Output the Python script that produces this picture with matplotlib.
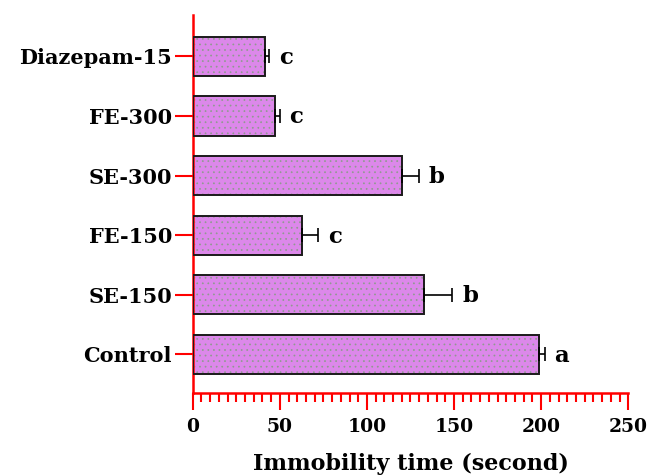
import matplotlib
matplotlib.use("Agg")
import matplotlib.pyplot as plt
from matplotlib.ticker import MultipleLocator

# ---- data --------------------------------------------------------------------
groups = ["Control", "SE-150", "FE-150", "SE-300", "FE-300", "Diazepam-15"]
means = [199, 133, 63, 120, 47, 41.5]
errs = [3, 16, 9, 10, 3, 2.5]
letters = ["a", "b", "c", "b", "c", "c"]

plt.rcParams["font.family"] = ["DejaVu Serif"]
plt.rcParams["font.weight"] = "bold"
plt.rcParams["hatch.linewidth"] = 0.5

fig = plt.figure(figsize=(6.49, 4.76), dpi=100)
ax = fig.add_axes([0.297, 0.174, 0.671, 0.794])

y = range(len(groups))
# fill with dotted pattern, then black outline on top
ax.barh(y, means, height=0.66, color="#dc88ea", edgecolor="#8f9a8f",
        hatch="...", linewidth=0, zorder=2)
ax.barh(y, means, height=0.66, fill=False, edgecolor="#1a1a1a",
        linewidth=1.4, zorder=3)
ax.errorbar(means, list(y), xerr=[[0] * len(errs), errs], fmt="none",
            ecolor="black", elinewidth=1.2, capsize=4.7, capthick=1.2, zorder=4)

for yi, m, e, lt in zip(y, means, errs, letters):
    ax.annotate(lt, (m + e, yi), xytext=(7, -1), textcoords="offset points",
                ha="left", va="center", fontsize=16.5, fontweight="bold")

ax.set_xlim(0, 250)
ax.set_ylim(-0.65, 5.69)
ax.set_yticks(list(y))
ax.set_yticklabels(groups, fontsize=15, fontweight="bold")
ax.xaxis.set_major_locator(MultipleLocator(50))
ax.xaxis.set_minor_locator(MultipleLocator(5))
ax.tick_params(axis="x", which="major", length=12, width=1.5, color="red",
               labelsize=13.5, pad=6)
ax.tick_params(axis="x", which="minor", length=6.5, width=1.5, color="red")
ax.tick_params(axis="y", length=13, width=1.5, color="red", pad=2)

for s in ("top", "right"):
    ax.spines[s].set_visible(False)
for s in ("left", "bottom"):
    ax.spines[s].set_color("red")
    ax.spines[s].set_linewidth(1.8)

ax.set_xlabel("Immobility time (second)", fontsize=16, fontweight="bold",
              labelpad=12)

fig.savefig("out.png", dpi=100)
